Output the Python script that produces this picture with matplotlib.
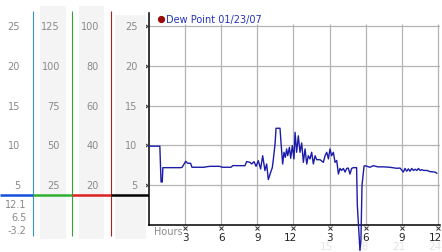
import matplotlib
matplotlib.use("Agg")
import matplotlib.pyplot as plt
from matplotlib.patches import Rectangle

# ---- data ----
hours = [
    0.0, 0.9, 1.0, 1.1, 1.15, 2.65, 2.75, 3.05, 3.2, 3.45, 3.57, 4.6, 4.7,
    5.1, 5.85, 6.1, 6.8, 6.97, 7.56, 7.97, 8.11, 8.39, 8.53, 8.72, 8.89,
    9.08, 9.27, 9.44, 9.63, 9.77, 9.91, 10.1, 10.24, 10.33, 10.47, 10.55,
    10.88, 10.96, 11.1, 11.21, 11.32, 11.43, 11.52, 11.66, 11.77, 11.9,
    12.04, 12.13, 12.26, 12.4, 12.54, 12.68, 12.82, 12.96, 13.1, 13.23,
    13.37, 13.51, 13.65, 13.79, 13.93, 14.2, 14.48, 14.62, 14.76, 14.9,
    15.03, 15.17, 15.31, 15.45, 15.59, 15.73, 15.86, 16.0, 16.14, 16.28,
    16.42, 16.55, 16.69, 16.83, 16.96, 17.24, 17.3, 17.52, 17.6, 17.69,
    17.86, 17.93, 18.35, 18.63, 19.0, 19.46, 20.0, 20.57, 20.85, 21.12,
    21.26, 21.4, 21.54, 21.68, 21.82, 21.96, 22.1, 22.24, 22.38, 22.52,
    22.66, 22.8, 23.1, 23.34, 23.75, 23.9,
]
dew_point = [
    9.9, 9.9, 5.4, 5.4, 7.2, 7.2, 7.25, 8.0, 7.75, 7.75, 7.25, 7.25, 7.3,
    7.37, 7.37, 7.25, 7.25, 7.46, 7.45, 7.45, 7.96, 7.87, 7.66, 7.96, 7.37,
    8.08, 7.04, 8.7, 6.83, 7.66, 5.7, 6.6, 7.2, 8.3, 10.2, 12.15,
    12.15, 10.4, 7.66, 9.13, 8.5, 9.55, 8.7, 9.76, 8.38, 9.97,
    8.3, 11.64, 9.13, 11.2, 9.13, 10.3, 7.87, 9.55, 7.66, 8.7,
    8.3, 9.13, 7.66, 8.7, 8.2, 8.2, 7.87, 8.7, 9.13, 8.3,
    9.55, 8.7, 9.13, 7.87, 8.1, 6.4, 7.1, 6.85, 7.1, 6.65,
    7.1, 7.15, 6.4, 7.1, 7.2, 7.2, 2.5, -3.2, -2.0, 5.0,
    7.4, 7.45, 7.25, 7.45, 7.3, 7.3, 7.25, 7.12, 7.15, 6.65,
    7.1, 6.75, 7.05, 6.75, 7.1, 6.85, 7.0, 6.85, 7.1, 6.85,
    6.95, 6.85, 6.85, 6.7, 6.65, 6.5,
]

y_ticks = [25, 20, 15, 10, 5]
scale_a = ["25", "20", "15", "10", "5"]
scale_b = ["125", "100", "75", "50", "25"]
scale_c = ["100", "80", "60", "40", "20"]
scale_d = ["25", "20", "15", "10", "5"]
stats = ["12.1", "6.5", "-3.2"]
x_ticks = [3, 6, 9, 12, 15, 18, 21, 24]
x_labels = ["3", "6", "9", "12", "3", "6", "9", "12"]
faint_ticks = [15, 18, 21, 24]
faint_labels = ["15", "18", "21", "24"]
legend_label = "Dew Point 01/23/07"

W, H = 442, 253
GRID = "#b4b4b4"
LABEL = "#8a8a8a"
LINE = "#1c1ca8"

fig = plt.figure(figsize=(W / 100, H / 100), dpi=100)
fig.patch.set_facecolor("white")

# main chart: hours 0..24.2 over px 149..440, values -3.4..26.6 over px 253..14
YMIN, YMAX = -3.4, 26.6
XMAX = 24.2
ax = fig.add_axes([149 / W, 0, (440.4 - 149) / W, (253 - 14.3) / H])
ax.set_xlim(0, XMAX)
ax.set_ylim(YMIN, YMAX)
ax.axis("off")
LAB_SHIFT = 0.3  # tick labels sit right-aligned a few px past the tick


def val2px(v):
    # y value of the main chart -> figure pixel row
    return H - (v - YMIN) / (YMAX - YMIN) * (253 - 14.3)


# left side-panel drawn in pixel space
lp = fig.add_axes([0, 0, 149 / W, 1])
lp.set_xlim(0, 149)
lp.set_ylim(H, 0)
lp.axis("off")

for x0, x1, top in [(40, 65.7, 7), (79.3, 104, 7), (115, 146, 16)]:
    lp.add_patch(Rectangle((x0, top), x1 - x0, 240 - top,
                           facecolor="#f4f4f4", edgecolor="none", zorder=0))

for x, c in [(33.3, "#3399cc"), (72.3, "#33a033"), (111, "#aa2222")]:
    lp.plot([x, x], [12, 237], color=c, lw=0.8, zorder=1,
            solid_capstyle="butt")

for x0, x1, c in [(0, 33.3, "#1450dc"), (33.3, 72.3, "#2fb02f"),
                  (72.3, 111, "#dd2020"), (111, 149, "black")]:
    lp.plot([x0, x1], [196, 196], color=c, lw=1.8, zorder=2,
            solid_capstyle="butt")

for labels, xr in [(scale_a, 20), (scale_b, 60), (scale_c, 99),
                   (scale_d, 137.5)]:
    for v, s in zip(y_ticks, labels):
        lp.text(xr, val2px(v), s, ha="right", va="center",
                fontsize=7, color=LABEL)

for yp, s in zip([205, 218.5, 231.5], stats):
    lp.text(26.5, yp, s, ha="right", va="center", fontsize=7, color=LABEL)

# grid
ax.hlines(y_ticks, 0, XMAX, color=GRID, lw=0.9, zorder=1)
ax.vlines(x_ticks, 0, 25.3, color=GRID, lw=0.9, zorder=1)

# axes lines
ax.plot([0, 0], [0, YMAX], color="black", lw=1.1, zorder=3, clip_on=False)
ax.plot([0, XMAX], [0, 0], color="black", lw=1.1, zorder=3, clip_on=False)

# little tick marks
ax.plot([-0.17] * len(y_ticks), y_ticks, ls="none", marker="x",
        ms=2.4, mew=0.7, color="#333333", clip_on=False, zorder=4)
ax.plot(x_ticks, [-0.4] * len(x_ticks), ls="none", marker="x",
        ms=2.4, mew=0.7, color="#333333", clip_on=False, zorder=4)

for t, s in zip(faint_ticks, faint_labels):
    ax.text(t + LAB_SHIFT, -2.65, s, ha="right", va="center", fontsize=7.5,
            color="#e4e4e4", zorder=2)
for t, s in zip(x_ticks, x_labels):
    ax.text(t + LAB_SHIFT, -1.5, s, ha="right", va="center", fontsize=7.5,
            color="#222222", zorder=5)
ax.text(0.45, -0.72, "Hours", ha="left", va="center", fontsize=7,
        color=LABEL)

# series
ax.plot(hours, dew_point, color=LINE, lw=1.0, zorder=4, clip_on=False)

# legend
ax.plot([1.0], [25.9], ls="none", marker="o", ms=4.2, color="#9a0a0a",
        clip_on=False, zorder=5)
ax.text(1.38, 25.9, legend_label, ha="left", va="center", fontsize=7,
        color="#2233bb")

fig.savefig("out.png", dpi=100, facecolor="white")
